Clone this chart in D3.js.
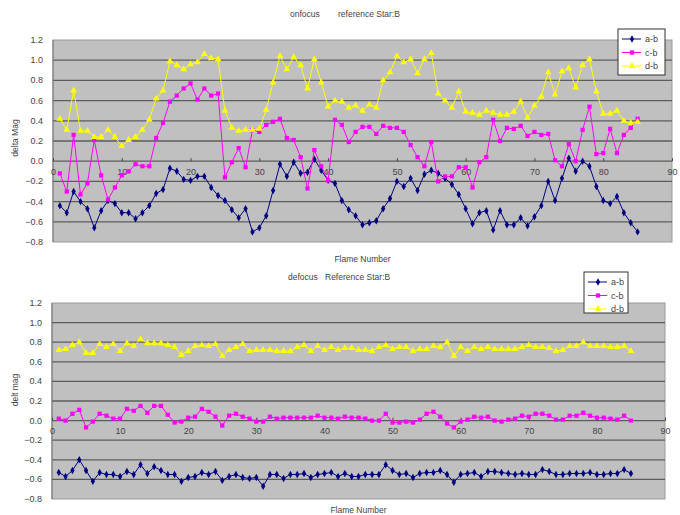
<!DOCTYPE html>
<html>
<head>
<meta charset="utf-8">
<script src="https://cdn.jsdelivr.net/npm/d3@7"></script>
<style>
  body { margin: 0; background: #fff; }
  text { font-family: "Liberation Sans", Arial, sans-serif; fill: #444; }
</style>
</head>
<body>
<svg id="chart" width="680" height="515"></svg>
<script>
// frame numbers 1..85
const frames = [1,2,3,4,5,6,7,8,9,10,11,12,13,14,15,16,17,18,19,20,
  21,22,23,24,25,26,27,28,29,30,31,32,33,34,35,36,37,38,39,40,
  41,42,43,44,45,46,47,48,49,50,51,52,53,54,55,56,57,58,59,60,
  61,62,63,64,65,66,67,68,69,70,71,72,73,74,75,76,77,78,79,80,
  81,82,83,84,85];

const seriesNames = ["a-b", "c-b", "d-b"];
const yTicks = [1.2, 1.0, 0.8, 0.6, 0.4, 0.2, 0.0, -0.2, -0.4, -0.6, -0.8];
const xTicks = [0, 10, 20, 30, 40, 50, 60, 70, 80, 90];

// onfocus
const onAB = [-0.44,-0.51,-0.30,-0.40,-0.47,-0.66,-0.49,-0.39,-0.42,-0.51,
  -0.51,-0.57,-0.51,-0.44,-0.32,-0.28,-0.07,-0.10,-0.18,-0.19,
  -0.15,-0.15,-0.26,-0.34,-0.39,-0.48,-0.56,-0.47,-0.70,-0.66,
  -0.54,-0.29,-0.03,-0.15,-0.01,-0.12,-0.11,0.02,-0.09,-0.19,
  -0.22,-0.39,-0.48,-0.54,-0.63,-0.61,-0.59,-0.47,-0.37,-0.20,
  -0.25,-0.17,-0.29,-0.13,-0.09,-0.12,-0.17,-0.23,-0.33,-0.47,
  -0.62,-0.51,-0.49,-0.68,-0.49,-0.63,-0.63,-0.56,-0.64,-0.55,
  -0.44,-0.20,-0.39,-0.17,0.03,-0.10,0.00,-0.05,-0.25,-0.39,
  -0.42,-0.35,-0.51,-0.61,-0.70];
const onCB = [-0.12,-0.30,0.26,-0.33,-0.22,0.21,-0.14,-0.38,-0.26,-0.14,
  -0.10,-0.03,-0.05,-0.05,0.23,0.38,0.59,0.65,0.72,0.77,
  0.61,0.72,0.65,0.67,-0.16,-0.01,0.13,-0.06,0.31,0.29,
  0.36,0.39,0.42,0.23,0.21,0.04,-0.27,0.11,-0.05,-0.19,
  0.41,0.36,0.19,0.29,0.34,0.34,0.27,0.35,0.33,0.33,
  0.29,0.16,0.04,-0.05,0.19,-0.20,-0.15,-0.15,-0.06,-0.06,
  -0.26,-0.01,0.04,0.41,0.20,0.33,0.32,0.35,0.25,0.29,
  0.26,0.27,0.01,-0.05,0.17,0.00,0.31,0.54,0.07,0.08,
  0.32,0.08,0.26,0.33,0.42];
const onDB = [0.42,0.31,0.70,0.30,0.30,0.24,0.24,0.31,0.24,0.15,
  0.21,0.24,0.31,0.41,0.62,0.70,0.99,0.95,0.91,0.96,
  0.98,1.06,1.02,1.01,0.50,0.33,0.30,0.31,0.31,0.32,
  0.51,0.78,1.04,0.91,1.03,0.95,0.72,1.01,0.78,0.54,
  0.60,0.59,0.53,0.55,0.50,0.56,0.53,0.80,0.88,1.04,
  0.98,1.01,0.87,1.01,1.07,0.67,0.60,0.53,0.69,0.49,
  0.48,0.46,0.50,0.48,0.46,0.46,0.49,0.59,0.43,0.55,
  0.64,0.88,0.66,0.89,0.92,0.73,0.95,1.01,0.69,0.47,
  0.47,0.50,0.40,0.38,0.39];

// defocus
const deAB = [-0.53,-0.57,-0.51,-0.40,-0.51,-0.62,-0.53,-0.55,-0.55,-0.57,
  -0.52,-0.55,-0.45,-0.54,-0.47,-0.51,-0.55,-0.55,-0.62,-0.58,
  -0.57,-0.53,-0.55,-0.52,-0.61,-0.57,-0.55,-0.58,-0.59,-0.58,
  -0.67,-0.55,-0.55,-0.59,-0.55,-0.55,-0.54,-0.58,-0.55,-0.54,
  -0.53,-0.57,-0.54,-0.57,-0.57,-0.55,-0.55,-0.55,-0.45,-0.51,
  -0.55,-0.54,-0.58,-0.54,-0.53,-0.53,-0.51,-0.55,-0.63,-0.55,
  -0.54,-0.53,-0.57,-0.52,-0.52,-0.53,-0.54,-0.55,-0.54,-0.55,
  -0.55,-0.50,-0.52,-0.55,-0.55,-0.54,-0.54,-0.54,-0.53,-0.55,
  -0.55,-0.54,-0.54,-0.50,-0.54];
const deCB = [0.02,0.00,0.07,0.11,-0.07,-0.01,0.07,0.05,0.02,0.02,
  0.12,0.10,0.15,0.08,0.15,0.15,0.06,-0.02,-0.01,0.03,
  0.04,0.12,0.09,0.04,-0.05,0.05,0.07,0.04,0.02,-0.01,
  -0.01,0.04,0.02,0.03,0.03,0.03,0.03,0.03,0.05,0.03,
  0.03,0.02,0.04,0.03,0.03,0.02,0.00,0.00,0.07,-0.02,
  -0.02,-0.01,-0.02,0.01,0.07,0.09,0.04,-0.03,-0.07,-0.01,
  0.01,0.04,0.03,0.04,0.00,-0.01,0.01,0.02,0.05,0.04,
  0.07,0.07,0.05,0.01,0.01,0.05,0.05,0.08,0.05,0.03,
  0.03,0.02,0.01,0.05,0.00];
const deDB = [0.72,0.73,0.77,0.80,0.69,0.69,0.78,0.75,0.78,0.71,
  0.79,0.76,0.83,0.79,0.79,0.79,0.77,0.75,0.67,0.71,
  0.76,0.77,0.76,0.78,0.66,0.72,0.75,0.78,0.71,0.72,
  0.72,0.72,0.71,0.71,0.71,0.75,0.77,0.71,0.76,0.72,
  0.75,0.72,0.74,0.74,0.72,0.72,0.71,0.75,0.77,0.73,
  0.75,0.75,0.71,0.73,0.73,0.76,0.75,0.80,0.66,0.75,
  0.71,0.75,0.73,0.75,0.73,0.73,0.73,0.73,0.75,0.77,
  0.75,0.75,0.74,0.71,0.72,0.76,0.76,0.80,0.76,0.76,
  0.76,0.75,0.75,0.76,0.71];

const colors = ["#000080", "#ff00ff", "#ffff00"];
const symbols = [d3.symbolDiamond, d3.symbolSquare, d3.symbolTriangle];
const symSize = [16, 18, 20];

const svg = d3.select("#chart");

function drawChart(cfg) {
  const g = svg.append("g");
  const x = d3.scaleLinear().domain([0, 90]).range([cfg.left, cfg.right]);
  const y = d3.scaleLinear().domain([-0.8, 1.2]).range([cfg.bottom, cfg.top]);

  g.append("rect")
    .attr("x", cfg.left).attr("y", cfg.top)
    .attr("width", cfg.right - cfg.left).attr("height", cfg.bottom - cfg.top)
    .attr("fill", "#c0c0c0").attr("stroke", "#9a9a9a");

  // grid lines
  g.selectAll(".grid").data(yTicks.filter(d => d > -0.8 && d < 1.2)).enter()
    .append("line")
    .attr("x1", cfg.left).attr("x2", cfg.right)
    .attr("y1", d => y(d)).attr("y2", d => y(d))
    .attr("stroke", "#5c5c5c").attr("stroke-width", 1.3);

  g.append("line")
    .attr("x1", cfg.left).attr("x2", cfg.left)
    .attr("y1", cfg.top).attr("y2", cfg.bottom)
    .attr("stroke", "#777");

  // y tick labels
  g.selectAll(".ylab").data(yTicks).enter()
    .append("text")
    .attr("x", cfg.left - 10).attr("y", d => y(d) + 3)
    .attr("text-anchor", "end")
    .style("font-size", "9px")
    .text(d => d3.format(".1f")(d).replace("-", "\u2212"));

  // x axis crosses at 0
  const xAxis = g.append("g")
    .attr("transform", `translate(0,${y(0)})`)
    .call(d3.axisBottom(x).tickValues(xTicks).tickSize(-3).tickPadding(7).tickFormat(d3.format("d")));
  xAxis.select(".domain").remove();
  xAxis.selectAll(".tick line").attr("stroke", "#444");
  xAxis.selectAll(".tick text")
    .style("font-size", "9px").style("font-family", "Liberation Sans, Arial, sans-serif")
    .attr("fill", "#444");

  const line = d3.line().x((d, i) => x(frames[i])).y(d => y(d));
  cfg.series.forEach((vals, k) => {
    g.append("path").datum(vals)
      .attr("fill", "none").attr("stroke", colors[k]).attr("stroke-width", 1)
      .attr("d", line);
    g.selectAll(".m" + k).data(vals).enter()
      .append("path")
      .attr("transform", (d, i) => `translate(${x(frames[i])},${y(d)})`)
      .attr("d", d3.symbol().type(symbols[k]).size(symSize[k]))
      .attr("fill", colors[k]);
  });

  // titles
  cfg.title.forEach(t => {
    g.append("text").attr("x", t.x).attr("y", cfg.titleY)
      .style("font-size", "8.5px").text(t.text);
  });
  g.append("text").attr("x", (cfg.left + cfg.right) / 2).attr("y", cfg.xTitleY)
    .attr("text-anchor", "middle").style("font-size", "8.5px").text("Flame Number");
  g.append("text")
    .attr("transform", `translate(18,${cfg.yTitleY}) rotate(-90)`)
    .attr("text-anchor", "middle").style("font-size", "8.5px").text(cfg.yTitle);

  // legend
  const L = cfg.legend;
  g.append("rect").attr("x", L.x).attr("y", L.y).attr("width", L.w).attr("height", L.h)
    .attr("fill", "#fff").attr("stroke", "#333");
  seriesNames.forEach((name, k) => {
    const ly = L.y + 10 + k * 13.5;
    g.append("line").attr("x1", L.x + 4).attr("x2", L.x + 23)
      .attr("y1", ly).attr("y2", ly).attr("stroke", colors[k]);
    g.append("path").attr("transform", `translate(${L.x + 14},${ly})`)
      .attr("d", d3.symbol().type(symbols[k]).size(symSize[k])).attr("fill", colors[k]);
    g.append("text").attr("x", L.x + 27).attr("y", ly + 3)
      .style("font-size", "9px").text(name);
  });
}

drawChart({
  left: 53, right: 672, top: 40, bottom: 242,
  series: [onAB, onCB, onDB],
  title: [{ x: 290, text: "onfocus" }, { x: 338, text: "reference Star:B" }],
  titleY: 17, xTitleY: 262, yTitle: "delta Mag", yTitleY: 138,
  legend: { x: 618, y: 29, w: 47, h: 46 }
});

drawChart({
  left: 52, right: 665, top: 303, bottom: 499,
  series: [deAB, deCB, deDB],
  title: [{ x: 288, text: "defocus" }, { x: 325, text: "Reference Star:B" }],
  titleY: 280, xTitleY: 513, yTitle: "delt mag", yTitleY: 390,
  legend: { x: 584, y: 272, w: 44, h: 41 }
});
</script>
</body>
</html>
